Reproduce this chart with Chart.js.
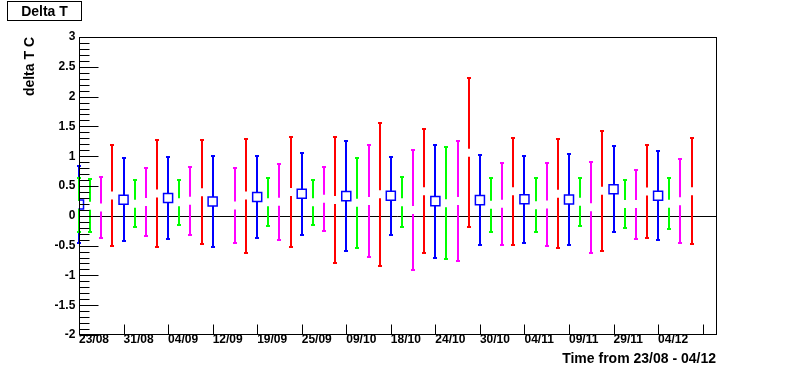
<!DOCTYPE html>
<html>
<head>
<meta charset="utf-8">
<script src="https://cdn.jsdelivr.net/npm/chart.js@4.4.1/dist/chart.umd.min.js"></script>
<style>
  html, body { margin: 0; padding: 0; background: #fff; }
  #wrap { width: 796px; height: 372px; }
</style>
</head>
<body>
<div id="wrap"><canvas id="c" width="796" height="372"></canvas></div>
<script>
// tick labels on the time axis (one per major tick)
const dateLabels = ['23/08', '31/08', '04/09', '12/09', '19/09', '25/09', '09/10',
                    '18/10', '24/10', '30/10', '04/11', '09/11', '29/11', '04/12'];

// blue series (with open square markers)
const blueX   = [0, 1, 2, 3, 4, 5, 6, 7, 8, 9, 10, 11, 12, 13];
const blueVal = [0.19, 0.27, 0.30, 0.24, 0.315, 0.37, 0.33, 0.335, 0.246, 0.263, 0.277, 0.275, 0.447, 0.338];
const blueErr = [0.65, 0.70, 0.69, 0.76, 0.69, 0.69, 0.92, 0.655, 0.95, 0.75, 0.73, 0.77, 0.716, 0.741];

// green series
const greenX   = [0, 0.25, 1.25, 2.25, 4.25, 5.25, 6.25, 7.25, 8.25, 9.25, 10.25, 11.25, 12.25, 13.25];
const greenVal = [0.18, 0.17, 0.204, 0.229, 0.229, 0.226, 0.22, 0.229, 0.21, 0.187, 0.179, 0.237, 0.196, 0.204];
const greenErr = [0.447, 0.44, 0.389, 0.38, 0.397, 0.377, 0.758, 0.414, 0.937, 0.455, 0.447, 0.405, 0.397, 0.422];

// magenta series
const magentaX   = [0.5, 1.5, 2.5, 3.5, 4.5, 5.5, 6.5, 7.5, 8.5, 9.5, 10.5, 11.5, 12.5, 13.5];
const magentaVal = [0.14, 0.232, 0.254, 0.173, 0.237, 0.285, 0.25, 0.097, 0.249, 0.204, 0.19, 0.145, 0.196, 0.246];
const magentaErr = [0.51, 0.568, 0.573, 0.637, 0.64, 0.537, 0.94, 1.0, 1.004, 0.69, 0.694, 0.766, 0.58, 0.699];

// red series
const redX   = [0.75, 1.75, 2.75, 3.75, 4.75, 5.75, 6.75, 7.75, 8.75, 9.75, 10.75, 11.75, 12.75, 13.75];
const redVal = [0.34, 0.375, 0.394, 0.34, 0.40, 0.265, 0.363, 0.414, 1.057, 0.41, 0.372, 0.42, 0.409, 0.414];
const redErr = [0.84, 0.895, 0.875, 0.956, 0.923, 1.065, 1.20, 1.035, 1.253, 0.90, 0.909, 1.009, 0.778, 0.884];

// axis ticks
const xTickVals = [0, 1, 2, 3, 4, 5, 6, 7, 8, 9, 10, 11, 12, 13, 14];
const yTickVals = [];
for (let i = -20; i <= 30; i++) yTickVals.push(i / 10);

const font = "'Liberation Sans', Arial, Helvetica, sans-serif";
Chart.defaults.font.family = font;
Chart.defaults.color = '#000';

function points(xs, ys) {
    return xs.map((x, i) => ({ x: x, y: ys[i] }));
}
function isMajor(v) {
    return Math.abs(v * 2 - Math.round(v * 2)) < 1e-6;
}

// ROOT-like frame, inside ticks, zero line, error bars and the title box
const rootStyle = {
    id: 'rootStyle',
    beforeDraw(chart) {
        const ctx = chart.ctx;
        ctx.save();
        ctx.fillStyle = '#fff';
        ctx.fillRect(0, 0, chart.width, chart.height);
        ctx.restore();
    },
    beforeDatasetsDraw(chart) {
        const ctx = chart.ctx;
        const xs = chart.scales.x, ys = chart.scales.y;
        const area = chart.chartArea;
        ctx.save();
        // zero line
        const y0 = Math.round(ys.getPixelForValue(0)) + 0.5;
        ctx.strokeStyle = '#000';
        ctx.lineWidth = 1;
        ctx.beginPath();
        ctx.moveTo(area.left, y0);
        ctx.lineTo(area.right, y0);
        ctx.stroke();

        // error bars with a gap at the point
        const gap = 4;
        chart.data.datasets.forEach(ds => {
            ctx.strokeStyle = ds.borderColor;
            ctx.fillStyle = ds.borderColor;
            ctx.lineWidth = 2;
            ds.data.forEach((p, j) => {
                const e = ds.err[j];
                const px = Math.round(xs.getPixelForValue(p.x));
                const pc = ys.getPixelForValue(p.y);
                const pt = Math.round(ys.getPixelForValue(p.y + e));
                const pb = Math.round(ys.getPixelForValue(p.y - e));
                ctx.beginPath();
                ctx.moveTo(px, pt);
                ctx.lineTo(px, pc - gap);
                ctx.moveTo(px, pc + gap);
                ctx.lineTo(px, pb);
                ctx.stroke();
                ctx.fillRect(px - 2, pt - 1, 4, 2);
                ctx.fillRect(px - 2, pb - 1, 4, 2);
            });
        });
        ctx.restore();
    },
    afterDraw(chart) {
        const ctx = chart.ctx;
        const xs = chart.scales.x, ys = chart.scales.y;
        const a = chart.chartArea;
        const l = Math.round(a.left) + 0.5, r = Math.round(a.right) + 0.5;
        const t = Math.round(a.top) + 0.5, b = Math.round(a.bottom) - 0.5;
        ctx.save();
        ctx.strokeStyle = '#000';
        ctx.lineWidth = 1;
        ctx.strokeRect(l, t, r - l, b - t);

        ctx.beginPath();
        yTickVals.forEach(v => {
            const py = Math.round(ys.getPixelForValue(v)) + 0.5;
            ctx.moveTo(l, py);
            ctx.lineTo(l + (isMajor(v) ? 19 : 10), py);
        });
        xTickVals.forEach(v => {
            const px = Math.round(xs.getPixelForValue(v)) + 0.5;
            ctx.moveTo(px, b);
            ctx.lineTo(px, b - 10);
        });
        ctx.stroke();

        // title box
        ctx.fillStyle = '#fff';
        ctx.fillRect(7.5, 1.5, 74, 19);
        ctx.strokeRect(7.5, 1.5, 74, 19);
        ctx.fillStyle = '#000';
        ctx.font = 'bold 14px ' + font;
        ctx.textAlign = 'center';
        ctx.textBaseline = 'middle';
        ctx.fillText('Delta T', 44.5, 12);
        ctx.restore();
    }
};

new Chart(document.getElementById('c'), {
    type: 'scatter',
    data: {
        datasets: [
            { label: 'blue', data: points(blueX, blueVal), err: blueErr, borderColor: '#0000ff',
              pointStyle: 'rect', pointRadius: 6.4, pointBackgroundColor: '#ffffff',
              pointBorderColor: '#0000ff', pointBorderWidth: 1.5 },
            { label: 'green', data: points(greenX, greenVal), err: greenErr, borderColor: '#00ff00', pointRadius: 0 },
            { label: 'magenta', data: points(magentaX, magentaVal), err: magentaErr, borderColor: '#ff00ff', pointRadius: 0 },
            { label: 'red', data: points(redX, redVal), err: redErr, borderColor: '#ff0000', pointRadius: 0 }
        ]
    },
    options: {
        responsive: false,
        animation: false,
        layout: { padding: { left: 0, right: 80, top: 37, bottom: 0 } },
        plugins: { legend: { display: false }, tooltip: { enabled: false } },
        scales: {
            x: {
                type: 'linear',
                min: 0,
                max: 14.3,
                afterBuildTicks: s => { s.ticks = xTickVals.map(v => ({ value: v })); },
                afterFit: s => { s.height = 37; },
                grid: { display: false, drawTicks: false },
                border: { display: false },
                ticks: {
                    autoSkip: false,
                    maxRotation: 0,
                    align: 'start',
                    padding: -3,
                    font: { size: 12, weight: 'bold' },
                    callback: v => dateLabels[v] || ''
                },
                title: {
                    display: true,
                    text: 'Time from 23/08 - 04/12',
                    align: 'end',
                    font: { size: 14, weight: 'bold' },
                    padding: { top: 0, bottom: 4 }
                }
            },
            y: {
                min: -2,
                max: 3,
                afterBuildTicks: s => { s.ticks = yTickVals.map(v => ({ value: v })); },
                afterFit: s => { s.width = 79; },
                grid: { display: false, drawTicks: false },
                border: { display: false },
                ticks: {
                    autoSkip: false,
                    padding: 3.7,
                    font: { size: 12, weight: 'bold' },
                    callback: v => isMajor(v) ? String(Math.round(v * 10) / 10) : ''
                },
                title: {
                    display: true,
                    text: 'delta T C',
                    align: 'end',
                    font: { size: 14, weight: 'bold' },
                    padding: { top: 22, bottom: 0 }
                }
            }
        }
    },
    plugins: [rootStyle]
});
</script>
</body>
</html>
